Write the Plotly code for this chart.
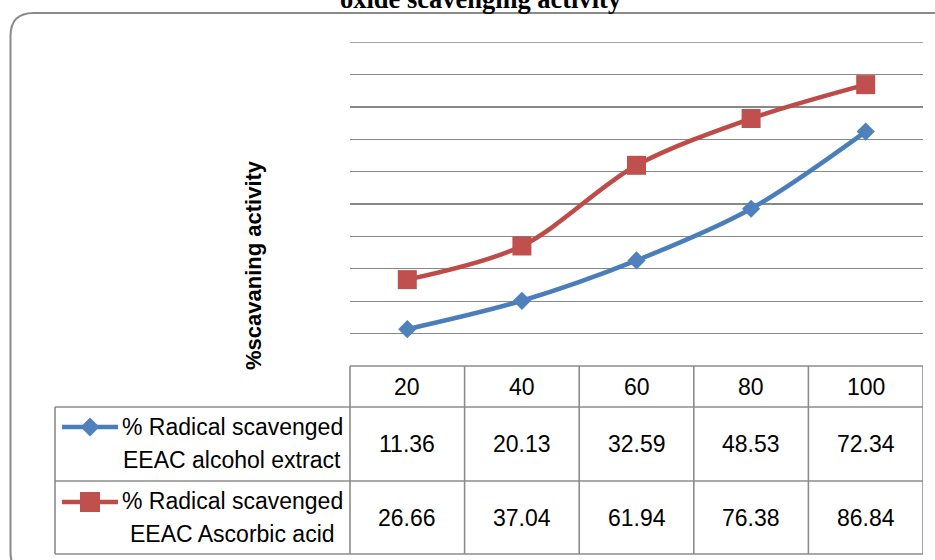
import plotly.graph_objects as go

# ---------------- data ----------------
categories = ["20", "40", "60", "80", "100"]
alcohol_extract = [11.36, 20.13, 32.59, 48.53, 72.34]
ascorbic_acid = [26.66, 37.04, 61.94, 76.38, 86.84]
series_names = [["% Radical scavenged", "EEAC alcohol extract"],
                 ["% Radical scavenged", "EEAC Ascorbic acid"]]
title_text = "oxide scavenging activity"
y_title = "%scavaning activity"
y_max = 100

W, H = 935, 560
OFF = 0  # body margin removed via post_script


def X(px):
    return (px - OFF) / W


def Y(py):
    return 1 - (py - OFF) / H


BLUE_LINE, BLUE_MK = "#4A7EBB", "#4F81BD"
RED_LINE, RED_MK = "#BE4B48", "#C0504D"
GRID = "#888888"
BORDER = "#8C8C8C"
FONT = "Liberation Sans"

fig = go.Figure()
series = [(alcohol_extract, BLUE_LINE, BLUE_MK, "diamond", 14),
          (ascorbic_acid, RED_LINE, RED_MK, "square", 19)]
for (vals, lc, mc, sym, sz), nm in zip(series, series_names):
    fig.add_trace(go.Scatter(
        x=categories, y=vals, mode="lines+markers",
        name=" ".join(nm),
        line=dict(color=lc, width=4.5, shape="spline", smoothing=0.9),
        marker=dict(symbol=sym, size=sz, color=mc, line=dict(width=0)),
        cliponaxis=False, showlegend=False, hoverinfo="skip"))

# plot area: x 350..923, y 42..366 (screen pixels)
fig.update_layout(
    width=W, height=H,
    margin=dict(l=0, r=0, t=0, b=0),
    paper_bgcolor="white", plot_bgcolor="white",
    hovermode=False,
    xaxis=dict(domain=[X(350), X(923)], type="category", range=[-0.5, 4.5],
               showgrid=False, showticklabels=False, showline=False,
               zeroline=False, ticks=""),
    yaxis=dict(domain=[Y(366), Y(42)], range=[0, y_max], dtick=10,
               tick0=0, showgrid=True, gridcolor=GRID, gridwidth=1.4,
               showticklabels=False, showline=False, zeroline=False, ticks=""),
)

shapes = []
# top gridline (at the axis maximum)
shapes.append(dict(type="line", xref="x", yref="y", x0=-0.5, x1=4.5,
                   y0=y_max, y1=y_max, line=dict(color=GRID, width=1.4),
                   layer="below"))
# rounded outer border (extends beyond right/bottom of the picture)
l, t, r, b, rad = X(10.5), Y(13), X(960), Y(575), 23
rx, ry = rad / W, rad / H
path = (f"M {l},{b + ry} L {l},{t - ry} Q {l},{t} {l + rx},{t} "
        f"L {r - rx},{t} Q {r},{t} {r},{t - ry} L {r},{b + ry} "
        f"Q {r},{b} {r - rx},{b} L {l + rx},{b} Q {l},{b} {l},{b + ry} Z")
shapes.append(dict(type="path", path=path, xref="paper", yref="paper",
                   line=dict(color="#8A8A8A", width=2), layer="below"))


def hline(py, x0, x1):
    shapes.append(dict(type="line", xref="paper", yref="paper",
                       x0=X(x0), x1=X(x1), y0=Y(py), y1=Y(py),
                       line=dict(color=BORDER, width=1.6)))


hline(366, 350, 923)
for py in (407, 481, 554):
    hline(py, 55, 923)
# vertical lines
for px, y0 in ((55, 407), (350, 366)):
    shapes.append(dict(type="line", xref="paper", yref="paper",
                       x0=X(px), x1=X(px), y0=Y(y0), y1=Y(554),
                       line=dict(color=BORDER, width=1.6)))
for i in range(len(categories)):
    shapes.append(dict(type="line", xref="x", yref="paper",
                       x0=i + 0.5, x1=i + 0.5, y0=Y(366), y1=Y(554),
                       line=dict(color=BORDER, width=1.6)))

# legend keys in table
key_rows = [427, 502]
for (vals, lc, mc, sym, sz), ky in zip(series, key_rows):
    shapes.append(dict(type="line", xref="paper", yref="paper",
                       x0=X(62), x1=X(118), y0=Y(ky), y1=Y(ky),
                       line=dict(color=lc, width=4.5)))
    cx = 90
    if sym == "diamond":
        p = (f"M {X(cx - 9.5)},{Y(ky)} L {X(cx)},{Y(ky - 9.5)} "
             f"L {X(cx + 9.5)},{Y(ky)} L {X(cx)},{Y(ky + 9.5)} Z")
    else:
        p = (f"M {X(cx - 10)},{Y(ky - 10)} L {X(cx + 10)},{Y(ky - 10)} "
             f"L {X(cx + 10)},{Y(ky + 10)} L {X(cx - 10)},{Y(ky + 10)} Z")
    shapes.append(dict(type="path", path=p, xref="paper", yref="paper",
                       fillcolor=mc, line=dict(width=0)))

annotations = []
# title (partially cut at top, as in the reference)
annotations.append(dict(text="<b>" + title_text + "</b>", xref="paper", yref="paper",
                        x=X(481), y=Y(-1), xanchor="center", yanchor="middle",
                        showarrow=False,
                        font=dict(family="Liberation Serif", size=26.5, color="black")))
# y-axis title
annotations.append(dict(text="<b>" + y_title + "</b>", xref="paper", yref="paper",
                        x=X(253), y=Y(265), xanchor="center", yanchor="middle",
                        textangle=-90, showarrow=False,
                        font=dict(family=FONT, size=22, color="black")))
# header categories
for i, c in enumerate(categories):
    annotations.append(dict(text=c, xref="x", yref="paper", x=i, y=Y(387),
                            xanchor="center", yanchor="middle", showarrow=False,
                            font=dict(family=FONT, size=23, color="black")))
# values
for vals, py in ((alcohol_extract, 444), (ascorbic_acid, 518)):
    for i, v in enumerate(vals):
        annotations.append(dict(text=f"{v:.2f}", xref="x", yref="paper", x=i, y=Y(py),
                                xanchor="center", yanchor="middle", showarrow=False,
                                font=dict(family=FONT, size=23, color="black")))
# series names
for nm, (p1, p2) in zip(series_names, ((427, 460), (501, 534))):
    for line_txt, py in zip(nm, (p1, p2)):
        annotations.append(dict(text=line_txt, xref="paper", yref="paper",
                                x=X(232), y=Y(py), xanchor="center", yanchor="middle",
                                showarrow=False,
                                font=dict(family=FONT, size=23, color="black")))

fig.update_layout(shapes=shapes, annotations=annotations)
fig.write_html("out.html",
               config={"displayModeBar": False, "staticPlot": True},
               post_script="document.body.style.margin='0';"
                           "document.body.style.overflow='hidden';")
